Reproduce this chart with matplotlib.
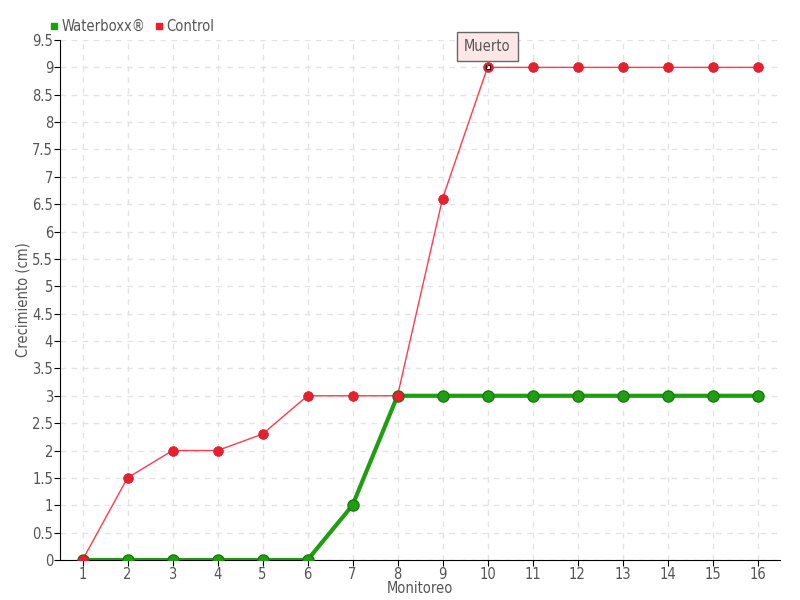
import numpy as np
import matplotlib
matplotlib.use("Agg")
import matplotlib.pyplot as plt
from matplotlib.lines import Line2D

# datos
monitoreo = list(range(1, 17))
waterboxx = [0, 0, 0, 0, 0, 0, 1, 3, 3, 3, 3, 3, 3, 3, 3, 3]
control = [0, 1.5, 2, 2, 2.3, 3, 3, 3, 6.6, 9, 9, 9, 9, 9, 9, 9]
yticks = np.arange(0, 9.51, 0.5)

txt = '#555555'
plt.rcParams['font.family'] = ['DejaVu Sans']
plt.rcParams['font.stretch'] = 'condensed'

fig = plt.figure(figsize=(8, 6), dpi=100)
ax = fig.add_axes([0.075, 0.0667, 0.9, 0.8666])

ax.plot(monitoreo, control, color='#ff3b4f', lw=1, zorder=3)
ax.plot(monitoreo, control, 'o', color='#e8202e', ms=7, mec='#d01b28', mew=0.5, zorder=5)
ax.plot(monitoreo, waterboxx, color='#1f9e12', lw=3, zorder=2)
ax.plot(monitoreo, waterboxx, 'o', color='#1f9e12', ms=8, mec='#1a7a10', mew=1, zorder=4)
# punto destacado en 10
ax.plot(10, 9, 's', color='white', ms=3.5, mec='black', mew=0.8, zorder=6)

ax.annotate('Muerto', xy=(10, 9), xytext=(10, 9.38), ha='center', va='center',
            fontsize=10.5, color=txt,
            bbox=dict(boxstyle='square,pad=0.5', fc='#fde6e6', ec='#666666', lw=1),
            arrowprops=dict(arrowstyle='-', color='#666666', lw=0.8), zorder=7)

ax.set_xlim(0.5, 16.5)
ax.set_ylim(0, 9.5)
ax.set_xticks(monitoreo)
ax.set_yticks(yticks)
ax.set_yticklabels([('%g' % v) for v in yticks])
ax.grid(True, ls=(0, (4, 4)), color='#e4e4e4', lw=1)
ax.set_axisbelow(True)
for s in ['top', 'right']:
    ax.spines[s].set_visible(False)
ax.spines['left'].set_color('black')
ax.spines['bottom'].set_color('black')
ax.tick_params(axis='both', labelsize=10.5, labelcolor=txt, length=4, color='black', pad=1)
ax.set_xlabel('Monitoreo', fontsize=10.5, color=txt, labelpad=-1)
ax.set_ylabel('Crecimiento (cm)', fontsize=10.5, color=txt, labelpad=1)

handles = [Line2D([], [], ls='none', marker='s', ms=4.5, color='#1f9e12'),
           Line2D([], [], ls='none', marker='s', ms=4.5, color='#e8202e')]
ax.legend(handles, ['Waterboxx\u00ae', 'Control'], loc='lower left',
          bbox_to_anchor=(-0.022, 1.0), ncol=2, frameon=False, fontsize=10.5,
          handlelength=0.6, handletextpad=0.2, columnspacing=0.6,
          labelcolor=txt, borderaxespad=0.0)

fig.savefig('out.png', dpi=100)
